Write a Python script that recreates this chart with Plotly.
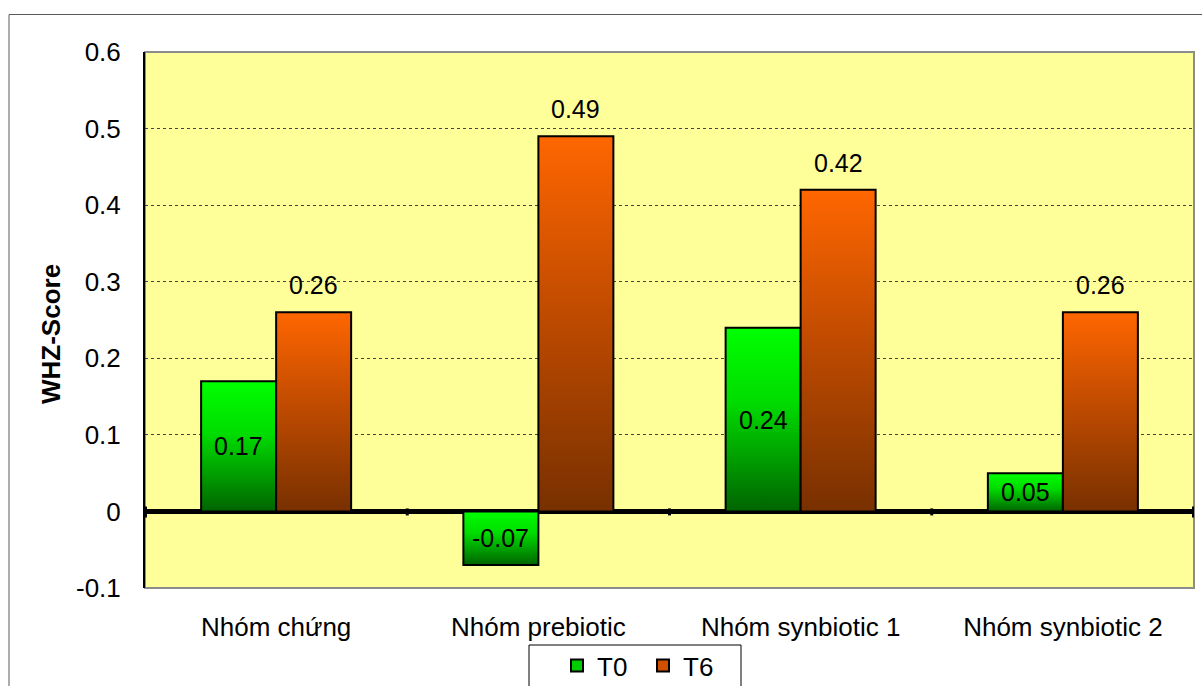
import plotly.graph_objects as go

# ---- data ----
categories = ["Nhóm chứng", "Nhóm prebiotic", "Nhóm synbiotic 1", "Nhóm synbiotic 2"]
t0_values = [0.17, -0.07, 0.24, 0.05]
t6_values = [0.26, 0.49, 0.42, 0.26]
series_names = ["T0", "T6"]
y_tick_values = [-0.1, 0, 0.1, 0.2, 0.3, 0.4, 0.5, 0.6]
y_tick_labels = ["-0.1", "0", "0.1", "0.2", "0.3", "0.4", "0.5", "0.6"]
y_title = "WHZ-Score"

# ---- styling ----
FONT = "Liberation Sans, Arial, sans-serif"
TICK_SIZE = 26
LABEL_SIZE = 25
BAR_W = 0.286
GREEN_SCALE = [[0, "#006400"], [0.6, "#00DD00"], [1, "#00FF00"]]
ORANGE_SCALE = [[0, "#783000"], [0.55, "#C24C00"], [1, "#FF6600"]]
LEGEND_COLORS = ["#00CC00", "#D05000"]

series = [
    (series_names[0], t0_values, -BAR_W, GREEN_SCALE),
    (series_names[1], t6_values, 0.0, ORANGE_SCALE),
]

fig = go.Figure()

# gradient bars, one filled polygon per bar so each has its own vertical gradient
for name, values, offset, scale in series:
    for i, v in enumerate(values):
        x0 = i + offset
        x1 = x0 + BAR_W
        fig.add_trace(go.Scatter(
            x=[x0, x0, x1, x1, x0],
            y=[0, v, v, 0, 0],
            mode="lines",
            fill="toself",
            fillgradient=dict(type="vertical", colorscale=scale),
            line=dict(color="black", width=2),
            legendgroup=name,
            showlegend=False,
            hoverinfo="skip",
        ))

# legend entries
for (name, _, _, _), col in zip(series, LEGEND_COLORS):
    fig.add_trace(go.Scatter(
        x=[None], y=[None], mode="markers", name=name, legendgroup=name,
        marker=dict(symbol="square", size=11, color=col,
                    line=dict(color="black", width=2)),
    ))

# geometry helpers (pixels -> paper)
L, T, R, B = 145, 52, 1194, 588
def px_x(p):
    return (p - L) / (R - L)
def px_y(p):
    return (B - p) / (B - T)

annotations = []
# value labels: T0 centred in bar, T6 above bar
for i, v in enumerate(t0_values):
    annotations.append(dict(
        x=i - BAR_W / 2, y=v / 2, text=f"{v:g}", showarrow=False,
        font=dict(family=FONT, size=LABEL_SIZE, color="black"),
        xanchor="center", yanchor="middle",
    ))
for i, v in enumerate(t6_values):
    annotations.append(dict(
        x=i + BAR_W / 2, y=v, text=f"{v:g}", showarrow=False,
        font=dict(family=FONT, size=LABEL_SIZE, color="black"),
        xanchor="center", yanchor="bottom", yshift=11,
    ))
# y-axis title
annotations.append(dict(
    x=px_x(51), y=px_y(334), xref="paper", yref="paper",
    text=f"<b>{y_title}</b>", textangle=-90, showarrow=False,
    font=dict(family=FONT, size=26, color="black"),
    xanchor="center", yanchor="middle",
))

shapes = [
    # outer chart frame
    dict(type="rect", xref="paper", yref="paper",
         x0=px_x(9), x1=px_x(1215), y0=px_y(700), y1=px_y(14.5),
         line=dict(color="#5A5A5A", width=1), fillcolor="rgba(0,0,0,0)", layer="below"),
    # plot-area border
    dict(type="rect", xref="paper", yref="paper", x0=0, x1=1, y0=0, y1=1,
         line=dict(color="#8C8C8C", width=2), fillcolor="rgba(0,0,0,0)", layer="below"),
    # legend frame
    dict(type="rect", xref="paper", yref="paper",
         x0=px_x(529), x1=px_x(741), y0=px_y(700), y1=px_y(645),
         line=dict(color="black", width=1), fillcolor="rgba(0,0,0,0)"),
]
# category boundary ticks on the zero line
for k in range(len(categories) + 1):
    xb = k - 0.5
    edge = k in (0, len(categories))
    shapes.append(dict(
        type="line", xref="x", yref="y", ysizemode="pixel", yanchor=0,
        x0=xb, x1=xb, y0=5 if edge else 3, y1=-6 if edge else -4,
        line=dict(color="black", width=4 if edge else 3),
    ))

fig.update_layout(
    width=1202, height=686,
    margin=dict(l=L, r=1202 - R, t=T, b=686 - B, autoexpand=False),
    paper_bgcolor="white",
    plot_bgcolor="#FFFF99",
    font=dict(family=FONT, size=TICK_SIZE, color="black"),
    showlegend=True,
    legend=dict(
        orientation="h", x=px_x(557), xanchor="left", y=px_y(642), yanchor="top",
        borderwidth=0, bgcolor="rgba(0,0,0,0)",
        font=dict(family=FONT, size=TICK_SIZE), entrywidth=41,
        itemsizing="constant",
    ),
    annotations=annotations,
    shapes=shapes,
    xaxis=dict(
        range=[-0.5, len(categories) - 0.5],
        tickvals=list(range(len(categories))), ticktext=categories,
        showgrid=False, zeroline=False, showline=False, ticks="",
        ticklabelstandoff=21,
        tickfont=dict(family=FONT, size=TICK_SIZE),
        fixedrange=True,
    ),
    yaxis=dict(
        range=[-0.1, 0.6],
        tickvals=y_tick_values, ticktext=y_tick_labels,
        showgrid=True, gridcolor="#444444", griddash="dot", gridwidth=1,
        zeroline=True, zerolinecolor="black", zerolinewidth=5,
        showline=True, linecolor="black", linewidth=2,
        ticks="", ticklabelstandoff=17,
        tickfont=dict(family=FONT, size=TICK_SIZE),
        fixedrange=True,
    ),
)

fig.write_html("out.html")
